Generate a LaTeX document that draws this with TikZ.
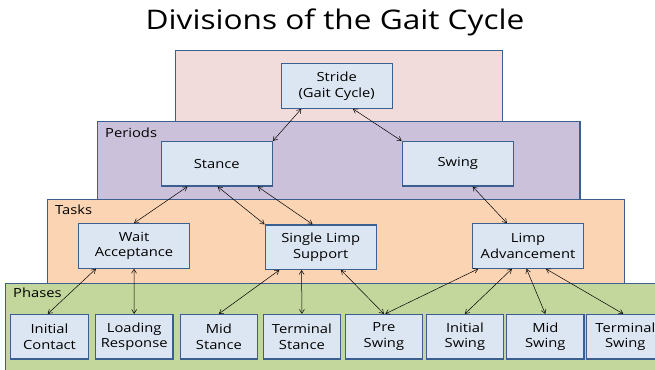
\documentclass[tikz,border=0pt]{standalone}
\usepackage{fontspec}
\setmainfont{Open Sans}[FakeStretch=1.17]
\usetikzlibrary{arrows.meta}
\definecolor{edgeblue}{HTML}{3B5F8E}
\definecolor{boxfill}{HTML}{DCE6F2}
\definecolor{pinkfill}{HTML}{F2DCDB}
\definecolor{purplefill}{HTML}{CCC1DA}
\definecolor{orangefill}{HTML}{FBD4B4}
\definecolor{greenfill}{HTML}{C3D69B}
\tikzset{
  layer/.style={draw=edgeblue, line width=1.5pt},
  layerlabel/.style={anchor=base west, inner sep=0pt, font=\fontsize{12.6}{15}\selectfont},
  box/.style={draw=edgeblue, fill=boxfill, line width=1.2pt, align=center,
    minimum height=44.5pt, inner sep=1pt,
    font=\fontsize{12.6}{15.5}\selectfont},
  bigbox/.style={box, minimum width=111pt},
  phasebox/.style={box, minimum width=77.5pt},
  link/.style={{Straight Barb[length=4pt,width=5pt]}-{Straight Barb[length=4pt,width=5pt]}, line width=0.5pt, black}
}
\begin{document}
\begin{tikzpicture}[x=1pt,y=-1pt]
\useasboundingbox (0,0) rectangle (655,369);
\clip (0,0) rectangle (655,369);
\fill[white] (0,0) rectangle (655,369);
% layers
\draw[layer, fill=pinkfill] (175.7,50.3) rectangle (502.3,121.7);
\draw[layer, fill=purplefill] (97.7,121.7) rectangle (580,199.3);
\draw[layer, fill=orangefill] (47.7,199.3) rectangle (624.3,283.3);
\draw[layer, fill=greenfill] (5.7,283.3) rectangle (670,380);
\node[layerlabel] (lperiods) at (105,137.5) {Periods};
\node[layerlabel] (ltasks) at (55,214) {Tasks};
\node[layerlabel] (lphases) at (13,297.3) {Phases};
% title
\node[font=\fontsize{27}{30}\selectfont, anchor=base] (title) at (335,29.5) {Divisions of the Gait Cycle};
% nodes
\node[bigbox] (stride) at (336.7,86) {Stride\\(Gait Cycle)};
\node[bigbox] (stance) at (216.8,163.8) {Stance};
\node[bigbox] (swing) at (457.8,163.8) {Swing};
\node[bigbox] (wait) at (134,246) {Wait\\Acceptance};
\node[bigbox] (single) at (320.7,247.2) {Single Limp\\Support};
\node[bigbox] (limp) at (528,246) {Limp\\Advancement};
\node[phasebox] (ic) at (49.5,336.7) {Initial\\Contact};
\node[phasebox] (lr) at (134.2,336.7) {Loading\\Response};
\node[phasebox] (ms) at (218.9,336.7) {Mid\\Stance};
\node[phasebox] (ts) at (301.9,336.7) {Terminal\\Stance};
\node[phasebox] (ps) at (383.9,336.7) {Pre\\Swing};
\node[phasebox] (is) at (464.9,336.7) {Initial\\Swing};
\node[phasebox] (mw) at (545.3,336.7) {Mid\\Swing};
\node[phasebox] (tsw) at (625.3,336.7) {Terminal\\Swing};
% connectors
\draw[link] ([xshift=20.7pt]stride.south west) -- (stance.north east);
\draw[link] ([xshift=72.3pt]stride.south west) -- (swing.north west);
\draw[link] ([xshift=26.7pt]stance.south west) -- (wait.north);
\draw[link] ([xshift=57pt]stance.south west) -- (single.north west);
\draw[link] ([xshift=97pt]stance.south west) -- ([xshift=48pt]single.north west);
\draw[link] ([xshift=71pt]swing.south west) -- ([xshift=35pt]limp.north west);
\draw[link] ([xshift=18pt]wait.south west) -- ([xshift=37.6pt]ic.north west);
\draw[link] (wait.south) -- (lr.north);
\draw[link] ([xshift=14.7pt]single.south west) -- (ms.north);
\draw[link] ([xshift=37pt]single.south west) -- (ts.north);
\draw[link] ([xshift=76.4pt]single.south west) -- (ps.north);
\draw[link] ([xshift=6.3pt]limp.south west) -- ([xshift=40.7pt]ps.north west);
\draw[link] ([xshift=40pt]limp.south west) -- (is.north);
\draw[link] ([xshift=54.6pt]limp.south west) -- (mw.north);
\draw[link] ([xshift=74pt]limp.south west) -- ([xshift=37.3pt]tsw.north west);
\end{tikzpicture}
\end{document}
